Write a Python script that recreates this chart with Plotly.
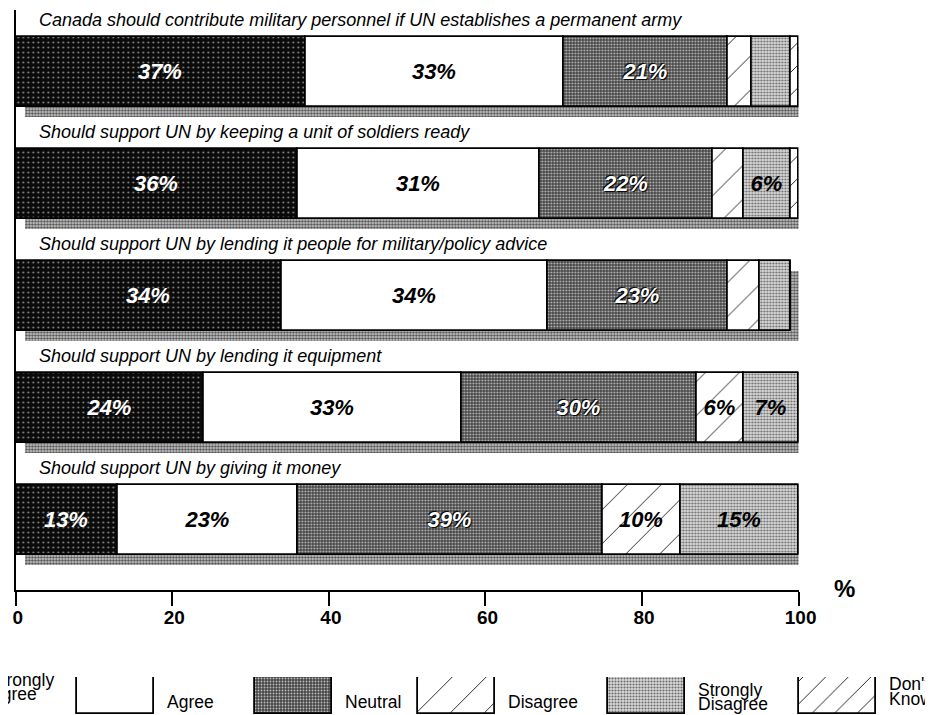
import numpy as np
import plotly.graph_objects as go

# ---------------- data ----------------
questions = [
    "Canada should contribute military personnel if UN establishes a permanent army",
    "Should support UN by keeping a unit of soldiers ready",
    "Should support UN by lending it people for military/policy advice",
    "Should support UN by lending it equipment",
    "Should support UN by giving it money",
]
strongly_agree = [37, 36, 34, 24, 13]
agree = [33, 31, 34, 33, 23]
neutral = [21, 22, 23, 30, 39]
disagree = [3, 4, 4, 6, 10]
strongly_disagree = [5, 6, 4, 7, 15]
dont_know = [1, 1, 0, 0, 0]
categories = ["Strongly Agree", "Agree", "Neutral", "Disagree", "Strongly Disagree", "Don't Know"]
x_ticks = [0, 20, 40, 60, 80, 100]

# ---------------- layout constants (target picture pixels) ----------------
OFF = 8                 # page margin around the figure
SX = 933 / 949          # observed horizontal scale of the photographed page
FW, FH = 933, 710
FONT = "Liberation Sans, Arial, Helvetica, sans-serif"


def fx(p):
    return (p / SX - OFF) / FW


def fy(p):
    return 1 - (p - OFF) / FH


PLOT_L, PLOT_R, PLOT_T, PLOT_B = 12.7, 800, 10, 590
ROW_PITCH = 112.0
ROW0_CENTER = 72.0
BAR_W = 70.0 / ROW_PITCH
Y_TOP = (PLOT_T - ROW0_CENTER) / ROW_PITCH
Y_BOT = (PLOT_B - ROW0_CENTER) / ROW_PITCH
SHADOW_DY = 10.0 / ROW_PITCH
SHADOW_DX = 1.1

styles = {
    "Strongly Agree": dict(color="#111111", pattern=dict(shape=".", bgcolor="#0a0a0a", fgcolor="#8a8a8a",
                                                         size=5, solidity=0.13, fillmode="replace"),
                           text="white"),
    "Agree": dict(color="white", pattern=None, text="black"),
    "Neutral": dict(color="#666666", pattern=dict(shape=".", bgcolor="#474747", fgcolor="#bdbdbd",
                                                  size=3, solidity=0.3, fillmode="replace"),
                    text="white"),
    "Disagree": dict(color="white", pattern=dict(shape="/", bgcolor="white", fgcolor="#222222",
                                                 size=24, solidity=0.04, fillmode="replace"),
                     text="black"),
    "Strongly Disagree": dict(color="#c0c0c0", pattern=dict(shape=".", bgcolor="#dadada", fgcolor="#6a6a6a",
                                                            size=3, solidity=0.38, fillmode="replace"),
                              text="black"),
    "Don't Know": dict(color="white", pattern=dict(shape="/", bgcolor="white", fgcolor="#222222",
                                                   size=16, solidity=0.06, fillmode="replace"),
                       text="black"),
}
shadow_pattern = dict(shape=".", bgcolor="#cfcfcf", fgcolor="#555555", size=3, solidity=0.5, fillmode="replace")

series = [strongly_agree, agree, neutral, disagree, strongly_disagree, dont_know]
rows = np.arange(len(questions))
totals = np.sum(np.array(series), axis=0)

fig = go.Figure()

# drop shadow behind each bar
fig.add_bar(y=rows + SHADOW_DY, x=totals - SHADOW_DX + 1.0, base=SHADOW_DX, orientation="h", width=BAR_W,
            marker=dict(color="#a8a8a8", pattern=shadow_pattern, line=dict(width=0)),
            hoverinfo="skip", showlegend=False, xaxis="x", yaxis="y")

base = np.zeros(len(questions))
for cat, vals in zip(categories, series):
    vals = np.array(vals, dtype=float)
    st = styles[cat]
    marker = dict(color=st["color"], line=dict(color="black", width=1.8))
    if st["pattern"]:
        marker["pattern"] = st["pattern"]
    txt = [f"{int(v)}%" if v >= 6 else "" for v in vals]
    tf = dict(family=FONT, size=22, color=st["text"], weight="bold", style="italic")
    if cat == "Neutral":
        tf["shadow"] = "1px 1px 1px #000, -1px -1px 1px #000"
    fig.add_bar(y=rows, x=vals, base=base.copy(), orientation="h", width=BAR_W, marker=marker,
                text=txt, textposition="inside", insidetextanchor="middle", textangle=0,
                constraintext="none", textfont=tf, name=cat,
                hoverinfo="skip", showlegend=False, xaxis="x", yaxis="y")
    base += vals

# question titles
for i, q in enumerate(questions):
    fig.add_annotation(x=fx(34), xref="paper", y=i - 0.46, yref="y", text=f"<i>{q}</i>",
                       showarrow=False, xanchor="left", yanchor="middle",
                       font=dict(family=FONT, size=18, color="black"))

# % unit
fig.add_annotation(x=fx(846), y=fy(588), xref="paper", yref="paper", text="<b>%</b>", showarrow=False,
                   xanchor="center", yanchor="middle", font=dict(family=FONT, size=24, color="black"))

# ---------------- legend (own axes, scaled in picture pixels) ----------------
LEG_BOX_LEFT = [-104, 74, 253, 417, 608, 800]
LEG_BOX_W = 78
LEG_TOP, LEG_BOTTOM = 677, 714
for cat, left in zip(categories, LEG_BOX_LEFT):
    st = styles[cat]
    marker = dict(color=st["color"], line=dict(color="black", width=1.8))
    if st["pattern"]:
        marker["pattern"] = st["pattern"]
    fig.add_bar(x=[left + LEG_BOX_W / 2], y=[1], base=[0], width=LEG_BOX_W, marker=marker,
                hoverinfo="skip", showlegend=False, xaxis="x2", yaxis="y3")
    tx = left + LEG_BOX_W + 11
    words = cat.split(" ", 1) if cat in ("Strongly Agree", "Strongly Disagree", "Don't Know") else [cat]
    if len(words) == 1:
        fig.add_annotation(x=fx(tx), y=fy(702), xref="paper", yref="paper", text=words[0], showarrow=False,
                           xanchor="left", yanchor="middle", font=dict(family=FONT, size=17.5, color="black"))
    else:
        if cat == "Strongly Agree":
            ys = (680, 694)
        elif cat == "Don't Know":
            ys = (684, 699)
        else:
            ys = (690, 704)
        for w, yy in zip(words, ys):
            fig.add_annotation(x=fx(tx), y=fy(yy), xref="paper", yref="paper", text=w, showarrow=False,
                               xanchor="left", yanchor="middle",
                               font=dict(family=FONT, size=17.5, color="black"))

fig.update_layout(
    width=FW, height=FH, margin=dict(l=0, r=0, t=0, b=0), autosize=False,
    paper_bgcolor="white", plot_bgcolor="rgba(0,0,0,0)",
    barmode="overlay", bargap=0,
    xaxis=dict(domain=[fx(PLOT_L), fx(PLOT_R)], range=[0, 100], tickvals=x_ticks,
               ticktext=[f"<b>{t}</b>" for t in x_ticks], ticks="outside", ticklen=14, tickwidth=2,
               tickcolor="black", showline=True, linewidth=2, linecolor="black", showgrid=False,
               zeroline=False, tickfont=dict(family=FONT, size=19, color="black"), anchor="y",
               ticklabelstandoff=-5, ticklabelshift=2, fixedrange=True),
    yaxis=dict(domain=[fy(PLOT_B), fy(PLOT_T)], range=[Y_BOT, Y_TOP], showline=True, linewidth=2,
               linecolor="black", showgrid=False, zeroline=False, showticklabels=False, ticks="",
               anchor="x", fixedrange=True),
    xaxis2=dict(domain=[0, 1], range=[SX * OFF, SX * (FW + OFF)], visible=False, anchor="y3",
                fixedrange=True),
    yaxis3=dict(domain=[fy(LEG_BOTTOM), fy(LEG_TOP)], range=[0, 1], visible=False, anchor="x2",
                fixedrange=True),
)

fig.write_html("out.html")
